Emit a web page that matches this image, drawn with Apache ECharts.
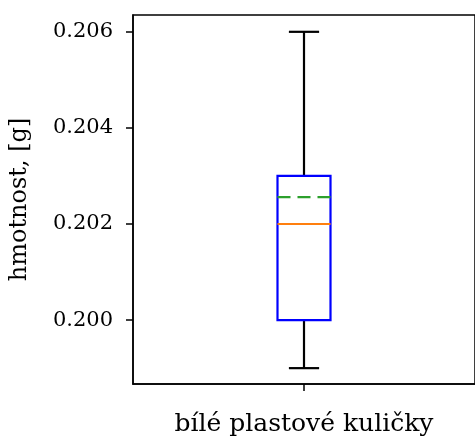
<!DOCTYPE html>
<html>
<head>
<meta charset="utf-8">
<script src="https://cdn.jsdelivr.net/npm/echarts@6/dist/echarts.min.js"></script>
<style>html,body{margin:0;padding:0;background:#fff;}#c{width:475px;height:440px;}</style>
</head>
<body>
<div id="c"></div>
<script>
const categories = ['bílé plastové kuličky'];
const whiskerLow = [0.1990];
const q1 = [0.2000];
const median = [0.2020];
const q3 = [0.2030];
const whiskerHigh = [0.2060];
const mean = [0.20256];
const yTicks = [0.200, 0.202, 0.204, 0.206];
const yMin = 0.19867, yMax = 0.20635;

const data = categories.map((c, i) => [i, whiskerLow[i], q1[i], median[i], q3[i], whiskerHigh[i], mean[i]]);
const FONT = 'DejaVu Serif';

const chart = echarts.init(document.getElementById('c'), null, {renderer: 'canvas'});
chart.setOption({
  animation: false,
  grid: {left: 133, right: -3, top: 15, bottom: 56, show: true, borderColor: '#000', borderWidth: 1.5, backgroundColor: 'transparent'},
  xAxis: {
    type: 'category', data: categories, boundaryGap: true,
    axisLine: {show: true, lineStyle: {color: '#000', width: 1.5}},
    axisTick: {show: true, alignWithLabel: true, length: 7, lineStyle: {color: '#000', width: 1.5}},
    axisLabel: {color: '#000', fontFamily: FONT, fontSize: 25, margin: 28},
    splitLine: {show: false}
  },
  yAxis: {
    type: 'value', min: yMin, max: yMax,
    name: 'hmotnost, [g]', nameLocation: 'middle', nameGap: 101,
    nameTextStyle: {color: '#000', fontFamily: FONT, fontSize: 24},
    axisLine: {show: true, lineStyle: {color: '#000', width: 1.5}},
    axisTick: {show: true, length: 7, customValues: yTicks, lineStyle: {color: '#000', width: 1.5}},
    axisLabel: {color: '#000', fontFamily: FONT, fontSize: 21, margin: 20, customValues: yTicks, formatter: v => v.toFixed(3)},
    splitLine: {show: false}
  },
  series: [{
    type: 'custom',
    data: data,
    encode: {x: 0, y: [1, 2, 3, 4, 5, 6]},
    renderItem: function (params, api) {
      const xi = api.value(0);
      const band = api.size([1, 0])[0];
      const bw = band * 0.155;
      const cw = bw * 0.57;
      const pLo = api.coord([xi, api.value(1)]);
      const pQ1 = api.coord([xi, api.value(2)]);
      const pMed = api.coord([xi, api.value(3)]);
      const pQ3 = api.coord([xi, api.value(4)]);
      const pHi = api.coord([xi, api.value(5)]);
      const pMean = api.coord([xi, api.value(6)]);
      const cx = pQ1[0];
      const blk = {stroke: '#000', lineWidth: 2.2};
      return {
        type: 'group',
        children: [
          {type: 'line', shape: {x1: cx, y1: pQ1[1], x2: cx, y2: pLo[1]}, style: blk},
          {type: 'line', shape: {x1: cx, y1: pQ3[1], x2: cx, y2: pHi[1]}, style: blk},
          {type: 'line', shape: {x1: cx - cw / 2, y1: pLo[1], x2: cx + cw / 2, y2: pLo[1]}, style: blk},
          {type: 'line', shape: {x1: cx - cw / 2, y1: pHi[1], x2: cx + cw / 2, y2: pHi[1]}, style: blk},
          {type: 'rect', shape: {x: cx - bw / 2, y: pQ3[1], width: bw, height: pQ1[1] - pQ3[1]}, style: {fill: null, stroke: '#0000ff', lineWidth: 2.2}},
          {type: 'line', shape: {x1: cx - bw / 2, y1: pMed[1], x2: cx + bw / 2, y2: pMed[1]}, style: {stroke: '#ff7f0e', lineWidth: 2.2}},
          {type: 'line', shape: {x1: cx - bw / 2, y1: pMean[1], x2: cx + bw / 2, y2: pMean[1]}, style: {stroke: '#2ca02c', lineWidth: 2.2, lineDash: [13, 7]}}
        ]
      };
    }
  }]
});
</script>
</body>
</html>
